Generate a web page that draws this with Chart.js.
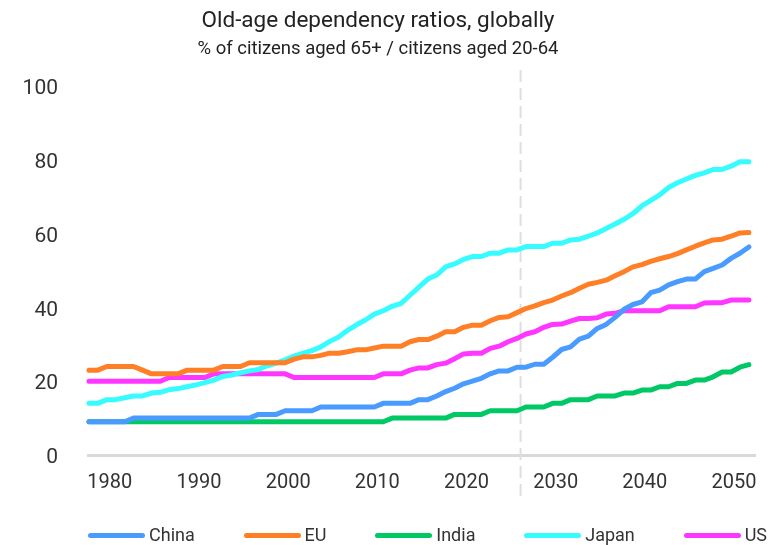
<!DOCTYPE html>
<html>
<head>
<meta charset="utf-8">
<script src="https://cdn.jsdelivr.net/npm/chart.js@4.4.1/dist/chart.umd.min.js"></script>
<style>
  body { margin: 0; background: #fff; }
  #wrap { position: relative; width: 783px; height: 545px; }
  #legend {
    position: absolute; left: 88px; top: 524px; width: 679px; height: 22px;
    display: flex; justify-content: space-between; align-items: center;
    font-family: Roboto, sans-serif; font-size: 18px; color: #333;
  }
  #legend .item { display: flex; align-items: center; line-height: 22px; }
  #legend .bar { width: 57px; height: 5px; border-radius: 3px; margin-right: 4px; }
</style>
</head>
<body>
<div id="wrap">
  <canvas id="ratioChart"></canvas>
  <div id="legend"></div>
</div>
<script>
/////Data
const years = [1978, 1979, 1980, 1981, 1982, 1983, 1984, 1985, 1986, 1987,
  1988, 1989, 1990, 1991, 1992, 1993, 1994, 1995, 1996, 1997,
  1998, 1999, 2000, 2001, 2002, 2003, 2004, 2005, 2006, 2007,
  2008, 2009, 2010, 2011, 2012, 2013, 2014, 2015, 2016, 2017,
  2018, 2019, 2020, 2021, 2022, 2023, 2024, 2025, 2026, 2027,
  2028, 2029, 2030, 2031, 2032, 2033, 2034, 2035, 2036, 2037,
  2038, 2039, 2040, 2041, 2042, 2043, 2044, 2045, 2046, 2047,
  2048, 2049, 2050, 2051, 2052];

const china = [9, 9, 9, 9, 9, 10, 10, 10, 10, 10,
  10, 10, 10, 10, 10, 10, 10, 10, 10, 11,
  11, 11, 12, 12, 12, 12, 13, 13, 13, 13,
  13, 13, 13, 14, 14, 14, 14, 15, 15, 16,
  17.2, 18.1, 19.3, 20, 20.8, 22, 22.8, 22.8, 23.8, 23.8,
  24.6, 24.6, 26.5, 28.6, 29.3, 31.4, 32.2, 34.3, 35.4, 37.3,
  39.5, 40.8, 41.5, 44, 44.7, 46.1, 47, 47.7, 47.7, 49.7,
  50.6, 51.5, 53.3, 54.7, 56.4];

const eu = [23, 23, 24, 24, 24, 24, 23, 22, 22, 22,
  22, 23, 23, 23, 23, 24, 24, 24, 25, 25,
  25, 25, 25, 26, 26.6, 26.6, 27, 27.6, 27.6, 28,
  28.5, 28.5, 29, 29.5, 29.5, 29.5, 30.7, 31.3, 31.3, 32.2,
  33.4, 33.4, 34.6, 35.2, 35.2, 36.4, 37.3, 37.5, 38.6, 39.7,
  40.4, 41.3, 42, 43.1, 44, 45.2, 46.3, 46.8, 47.4, 48.6,
  49.7, 51, 51.6, 52.5, 53.2, 53.8, 54.6, 55.6, 56.6, 57.5,
  58.3, 58.5, 59.3, 60.2, 60.3];

const india = [9, 9, 9, 9, 9, 9, 9, 9, 9, 9,
  9, 9, 9, 9, 9, 9, 9, 9, 9, 9,
  9, 9, 9, 9, 9, 9, 9, 9, 9, 9,
  9, 9, 9, 9, 10, 10, 10, 10, 10, 10,
  10, 11, 11, 11, 11, 12, 12, 12, 12, 13,
  13, 13, 14, 14, 15, 15, 15, 16, 16, 16,
  16.8, 16.8, 17.6, 17.6, 18.5, 18.5, 19.4, 19.4, 20.3, 20.3,
  21.2, 22.5, 22.5, 23.8, 24.5];

const japan = [14, 14, 15, 15, 15.5, 16, 16, 16.8, 17, 17.7,
  18, 18.5, 19, 19.6, 20.3, 21.3, 21.7, 22.3, 22.8, 23.2,
  24.2, 24.9, 25.8, 26.8, 27.6, 28.3, 29.3, 30.8, 32, 33.8,
  35.3, 36.6, 38.2, 39.1, 40.3, 41.1, 43.3, 45.5, 47.7, 48.8,
  51, 51.8, 53, 53.8, 53.8, 54.7, 54.7, 55.6, 55.6, 56.5,
  56.5, 56.5, 57.4, 57.4, 58.3, 58.5, 59.3, 60.2, 61.4, 62.6,
  63.9, 65.4, 67.5, 69, 70.5, 72.5, 73.8, 74.8, 75.8, 76.5,
  77.4, 77.4, 78.3, 79.5, 79.5];

const us = [20, 20, 20, 20, 20, 20, 20, 20, 20, 21,
  21, 21, 21, 21, 22, 22, 22, 22, 22, 22,
  22, 22, 22, 21, 21, 21, 21, 21, 21, 21,
  21, 21, 21, 22, 22, 22, 23, 23.6, 23.6, 24.5,
  24.9, 26.1, 27.4, 27.6, 27.6, 28.9, 29.5, 30.7, 31.6, 32.8,
  33.4, 34.6, 35.4, 35.5, 36.3, 37, 37, 37.2, 38.2, 38.4,
  39.1, 39.1, 39.1, 39.1, 39.1, 40.2, 40.2, 40.2, 40.2, 41.2,
  41.3, 41.3, 42, 42, 42];

const seriesNames = ['China', 'EU', 'India', 'Japan', 'US'];
const seriesColors = ['#4a9bff', '#ff7f27', '#00c864', '#36fcff', '#ff36ff'];
const tickYears = [1980, 1990, 2000, 2010, 2020, 2030, 2040, 2050];
const projectionYear = 2026.4;

/////Chart
Chart.defaults.font.family = 'Roboto, sans-serif';
Chart.defaults.color = '#333';

const seriesValues = [china, eu, india, japan, us];

const dashedMarker = {
    id: 'dashedMarker',
    beforeDatasetsDraw(chart) {
        const ctx = chart.ctx;
        const x = chart.scales.x.getPixelForValue(projectionYear);
        ctx.save();
        ctx.strokeStyle = '#dedede';
        ctx.lineWidth = 2;
        ctx.setLineDash([12, 6]);
        ctx.beginPath();
        ctx.moveTo(x, chart.chartArea.top - 16);
        ctx.lineTo(x, chart.chartArea.bottom + 45);
        ctx.stroke();
        ctx.restore();
    }
};

const htmlLegend = {
    id: 'htmlLegend',
    afterUpdate(chart) {
        const box = document.getElementById('legend');
        box.innerHTML = '';
        chart.data.datasets.forEach(ds => {
            const item = document.createElement('div');
            item.className = 'item';
            const bar = document.createElement('span');
            bar.className = 'bar';
            bar.style.background = ds.borderColor;
            const label = document.createElement('span');
            label.textContent = ds.label;
            item.appendChild(bar);
            item.appendChild(label);
            box.appendChild(item);
        });
    }
};

let ctx = document.getElementById('ratioChart').getContext('2d');
new Chart(ctx, {
    type: 'line',
    data: {
        datasets: seriesNames.map((name, i) => ({
            label: name,
            data: years.map((yr, j) => ({ x: yr, y: seriesValues[i][j] })),
            borderColor: seriesColors[i],
            backgroundColor: seriesColors[i],
            borderWidth: 5,
            borderCapStyle: 'round',
            borderJoinStyle: 'round',
            pointRadius: 0,
            tension: 0,
            clip: 6
        }))
    },
    options: {
        responsive: true,
        maintainAspectRatio: false,
        animation: false,
        layout: { padding: { left: 0, right: 27, top: 0, bottom: 0 } },
        plugins: {
            legend: { display: false },
            tooltip: { enabled: false },
            title: {
                display: true,
                text: 'Old-age dependency ratios, globally',
                color: '#222',
                font: { size: 22.5, weight: 'normal' },
                padding: { top: 7.5, bottom: 0 }
            },
            subtitle: {
                display: true,
                text: '% of citizens aged 65+ / citizens aged 20-64',
                color: '#222',
                font: { size: 18.5, weight: 'normal' },
                padding: { top: 4, bottom: 25.4 }
            }
        },
        scales: {
            x: {
                type: 'linear',
                min: 1977.78,
                max: 2052.8,
                grid: { display: false, drawTicks: false },
                border: { display: false },
                afterBuildTicks: scale => {
                    scale.ticks = tickYears.map(v => ({ value: v }));
                },
                afterFit: scale => { scale.height = 90; },
                ticks: {
                    padding: 16,
                    labelOffset: 3,
                    color: '#333',
                    font: { size: 20 },
                    maxRotation: 0,
                    callback: value => String(value)
                }
            },
            y: {
                min: 0,
                max: 100,
                grid: {
                    drawTicks: false,
                    lineWidth: 3,
                    color: c => (c.tick && c.tick.value === 0) ? '#d9d9d9' : 'rgba(0,0,0,0)'
                },
                border: { display: false },
                afterFit: scale => { scale.width = 87; },
                ticks: {
                    stepSize: 20,
                    padding: 29,
                    labelOffset: 3,
                    color: '#333',
                    font: { size: 21 }
                }
            }
        }
    },
    plugins: [dashedMarker, htmlLegend]
});
</script>
</body>
</html>
